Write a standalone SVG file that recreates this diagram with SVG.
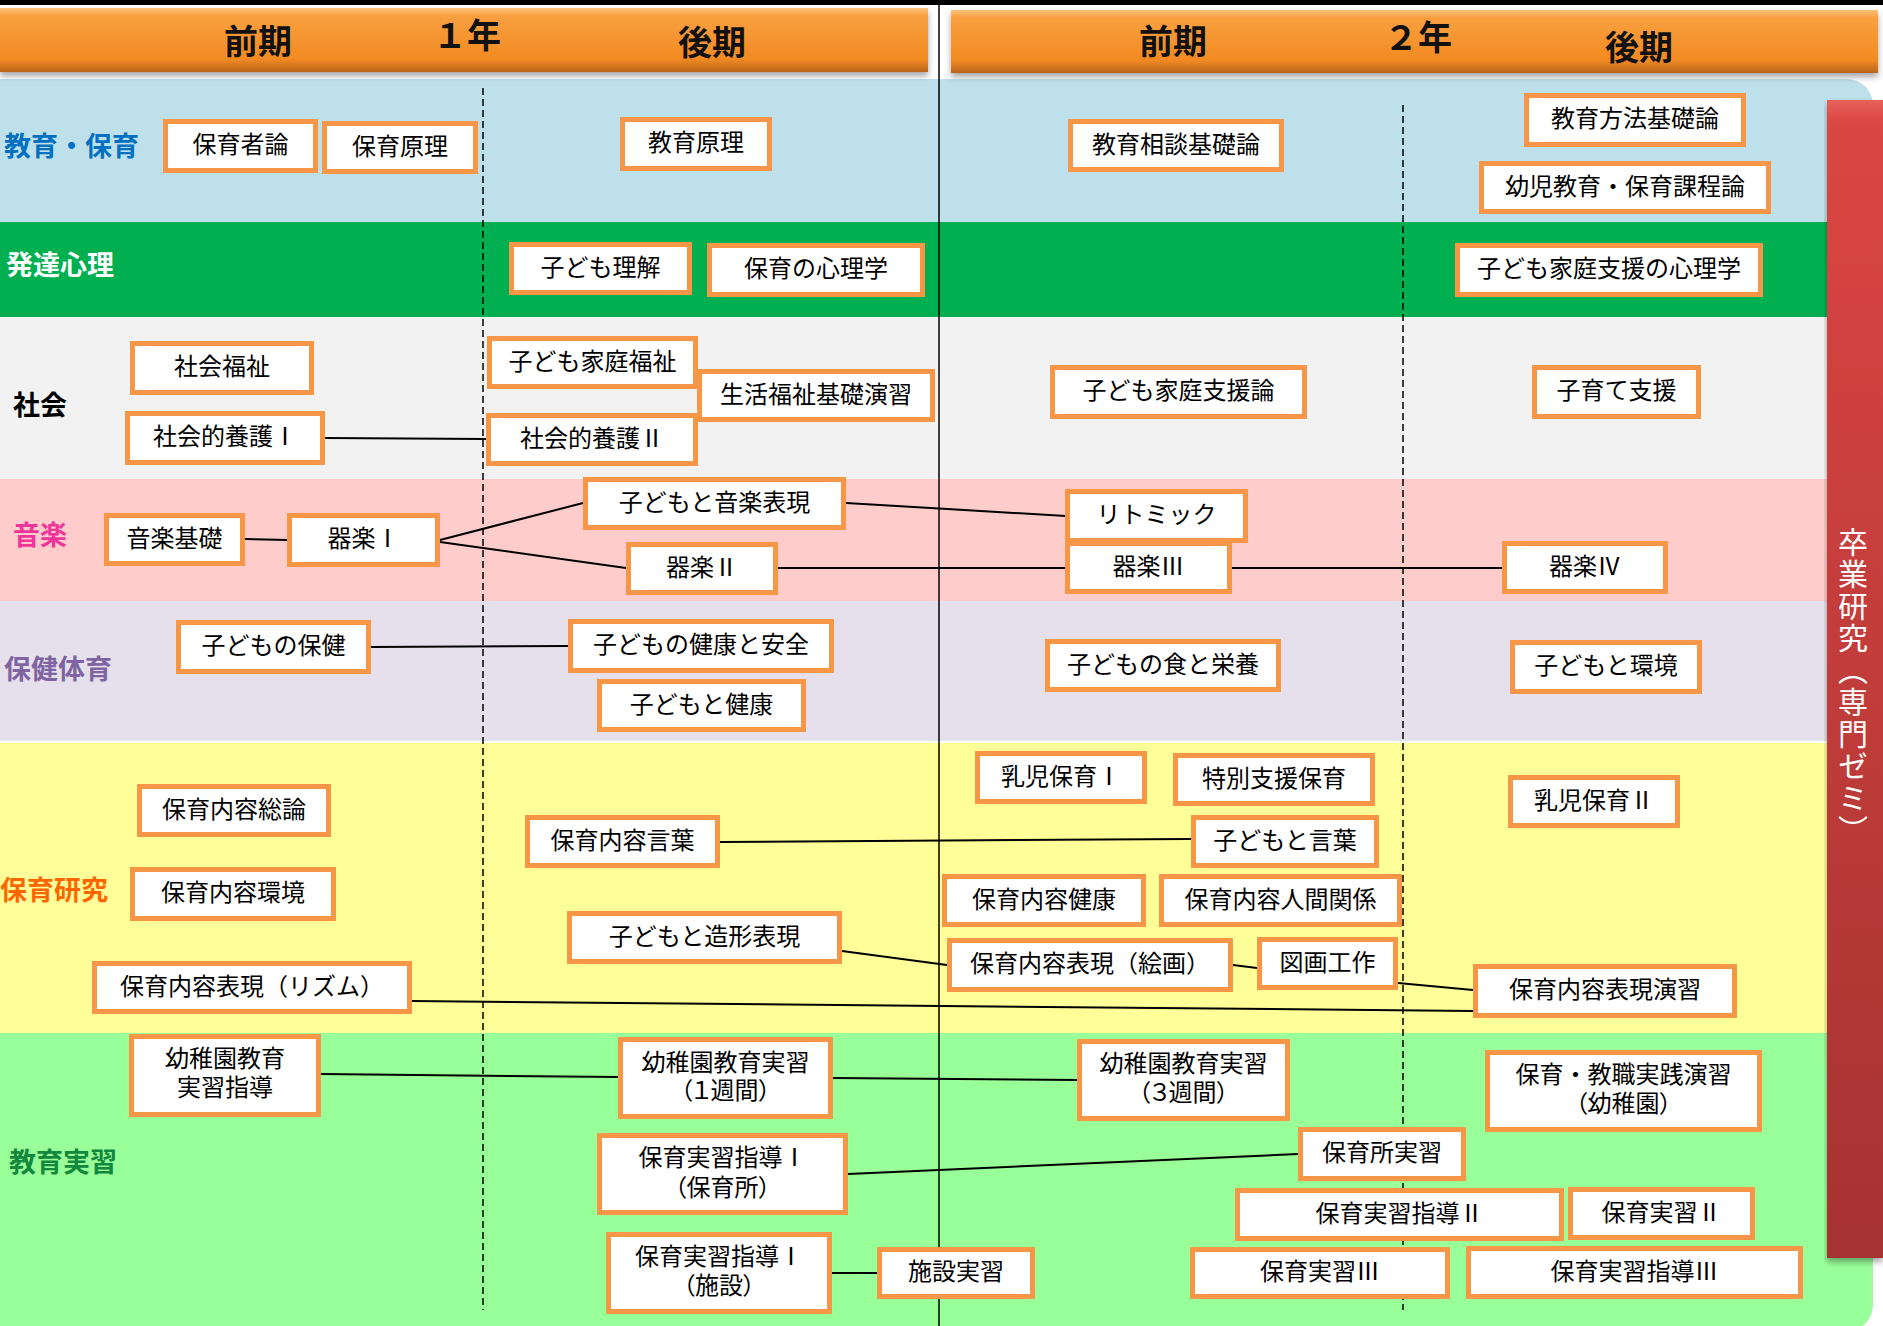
<svg xmlns="http://www.w3.org/2000/svg" width="1883" height="1326" viewBox="0 0 1883 1326">
<style>
.b{fill:#fff;stroke:#F79646;stroke-width:5}
.t{font-family:"Noto Sans CJK JP","Noto Sans",sans-serif;font-size:24px;text-anchor:middle;fill:#000}
.p{font-feature-settings:"palt"}
.h{font-family:"Noto Sans CJK JP","Noto Sans",sans-serif;font-size:34px;font-weight:bold;text-anchor:middle;fill:#111}
.l{font-family:"Noto Sans CJK JP","Noto Sans",sans-serif;font-size:27px;font-weight:bold}
.c{stroke:#000;stroke-width:2;fill:none}
.d{stroke:#000;stroke-width:1.5;stroke-dasharray:7 4}
</style>
<defs>
<linearGradient id="hg" x1="0" y1="0" x2="0" y2="1">
<stop offset="0" stop-color="#FCC27F"/><stop offset="0.12" stop-color="#F9A040"/><stop offset="0.8" stop-color="#F28A22"/><stop offset="1" stop-color="#B8631C"/>
</linearGradient>
<linearGradient id="rg" x1="0" y1="0" x2="0" y2="1">
<stop offset="0" stop-color="#E6605A"/><stop offset="0.02" stop-color="#DB4642"/><stop offset="1" stop-color="#A63232"/>
</linearGradient>
<filter id="sh" x="-5%" y="-20%" width="110%" height="150%">
<feGaussianBlur in="SourceAlpha" stdDeviation="3"/><feOffset dx="0" dy="4"/>
<feComponentTransfer><feFuncA type="linear" slope="0.35"/></feComponentTransfer>
<feMerge><feMergeNode/><feMergeNode in="SourceGraphic"/></feMerge>
</filter>
<clipPath id="bg"><rect x="-30" y="79" width="1903" height="1252" rx="26"/></clipPath>
</defs>
<rect width="1883" height="1326" fill="#fff"/>
<rect x="0" y="0" width="1883" height="5" fill="#000"/>
<g id="bands" clip-path="url(#bg)">
<rect x="-30" y="79" width="1910" height="143" fill="#BEE0EB"/>
<rect x="-30" y="222" width="1910" height="95" fill="#00B050"/>
<rect x="-30" y="317" width="1910" height="162" fill="#F2F2F2"/>
<rect x="-30" y="479" width="1910" height="122" fill="#FFCCCC"/>
<rect x="-30" y="601" width="1910" height="141" fill="#E5E0EC"/>
<rect x="-30" y="742" width="1910" height="291" fill="#FFFF99"/>
<rect x="-30" y="1033" width="1910" height="300" fill="#99FF99"/>
<line x1="0" y1="742" x2="1827" y2="742" stroke="#fff" stroke-width="2"/>
</g>
<g id="headers" filter="url(#sh)">
<rect x="0" y="8" width="928" height="64" fill="url(#hg)"/>
<rect x="951" y="10" width="927" height="63" fill="url(#hg)"/>
</g>
<g id="header-text">
<text class="h" x="258" y="54">前期</text>
<text class="h" x="467" y="48">１年</text>
<text class="h" x="712" y="55">後期</text>
<text class="h" x="1173" y="54">前期</text>
<text class="h" x="1418" y="50">２年</text>
<text class="h" x="1639" y="60">後期</text>
</g>
<g id="sotsuken">
<rect x="1827" y="100" width="56" height="1158" fill="url(#rg)" filter="url(#sh)"/>
<text x="1853" y="527" style="writing-mode:vertical-rl" font-family="Noto Sans CJK JP, sans-serif" font-size="30" letter-spacing="2" fill="#fff">卒業研究（専門ゼミ）</text>
</g>
<g id="lines">
<line class="d" x1="483" y1="88" x2="483" y2="1310"/>
<line class="d" x1="1403" y1="105" x2="1403" y2="1310"/>
<line x1="939" y1="0" x2="939" y2="1326" stroke="#000" stroke-width="1.5"/>
</g>
<g id="labels">
<text class="l" x="4" y="156" fill="#0070C0">教育・保育</text>
<text class="l" x="6" y="275" fill="#fff">発達心理</text>
<text class="l" x="13" y="415" fill="#000">社会</text>
<text class="l" x="13" y="545" fill="#F0359A">音楽</text>
<text class="l" x="4" y="679" fill="#8064A2">保健体育</text>
<text class="l" x="0" y="900" fill="#FF6600">保育研究</text>
<text class="l" x="9" y="1172" fill="#12883C">教育実習</text>
</g>
<g id="connectors">
<line class="c" x1="325" y1="438" x2="486" y2="439"/>
<line class="c" x1="245" y1="539" x2="287" y2="540"/>
<line class="c" x1="440" y1="540" x2="583" y2="503"/>
<line class="c" x1="440" y1="542" x2="626" y2="568"/>
<line class="c" x1="846" y1="503" x2="1066" y2="516"/>
<line class="c" x1="778" y1="568" x2="1065" y2="568"/>
<line class="c" x1="1232" y1="568" x2="1502" y2="568"/>
<line class="c" x1="371" y1="647" x2="568" y2="646"/>
<line class="c" x1="720" y1="842" x2="1191" y2="839"/>
<line class="c" x1="842" y1="951" x2="947" y2="965"/>
<line class="c" x1="1233" y1="965" x2="1257" y2="968"/>
<line class="c" x1="1398" y1="983" x2="1473" y2="990"/>
<line class="c" x1="412" y1="1001" x2="1473" y2="1011"/>
<line class="c" x1="321" y1="1074" x2="618" y2="1077"/>
<line class="c" x1="833" y1="1078" x2="1077" y2="1080"/>
<line class="c" x1="848" y1="1174" x2="1298" y2="1154"/>
<line class="c" x1="832" y1="1273" x2="877" y2="1273"/>
</g>
<g id="n1"><rect class="b" x="165.5" y="121.5" width="150" height="49"/><text class="t" x="240.5" y="153">保育者論</text></g>
<g id="n2"><rect class="b" x="324.5" y="123.5" width="151" height="48"/><text class="t" x="400" y="154.5">保育原理</text></g>
<g id="n3"><rect class="b" x="622.5" y="119.5" width="147" height="49"/><text class="t" x="696" y="151">教育原理</text></g>
<g id="n4"><rect class="b" x="1070.5" y="121.5" width="211" height="48"/><text class="t" x="1176" y="152.5">教育相談基礎論</text></g>
<g id="n5"><rect class="b" x="1526.5" y="95.5" width="217" height="49"/><text class="t" x="1635" y="127">教育方法基礎論</text></g>
<g id="n6"><rect class="b" x="1481.5" y="163.5" width="287" height="48"/><text class="t" x="1625" y="194.5">幼児教育・保育課程論</text></g>
<g id="n7"><rect class="b" x="511.5" y="244.5" width="178" height="48"/><text class="t" x="600.5" y="275.5">子ども理解</text></g>
<g id="n8"><rect class="b" x="709.5" y="245.5" width="213" height="49"/><text class="t" x="816" y="277">保育の心理学</text></g>
<g id="n9"><rect class="b" x="1457.5" y="245.5" width="303" height="49"/><text class="t" x="1609" y="277">子ども家庭支援の心理学</text></g>
<g id="n10"><rect class="b" x="132.5" y="343.5" width="179" height="49"/><text class="t" x="222" y="375">社会福祉</text></g>
<g id="n11"><rect class="b" x="127.5" y="413.5" width="195" height="49"/><text class="t" x="225" y="445">社会的養護Ⅰ</text></g>
<g id="n12"><rect class="b" x="489.5" y="338.5" width="206" height="48"/><text class="t" x="592.5" y="369.5">子ども家庭福祉</text></g>
<g id="n13"><rect class="b" x="699.5" y="371.5" width="233" height="48"/><text class="t" x="816" y="402.5">生活福祉基礎演習</text></g>
<g id="n14"><rect class="b" x="488.5" y="415.5" width="207" height="48"/><text class="t" x="592" y="446.5">社会的養護Ⅱ</text></g>
<g id="n15"><rect class="b" x="1052.5" y="367.5" width="252" height="49"/><text class="t" x="1178.5" y="399">子ども家庭支援論</text></g>
<g id="n16"><rect class="b" x="1534.5" y="367.5" width="164" height="49"/><text class="t" x="1616.5" y="399">子育て支援</text></g>
<g id="n17"><rect class="b" x="106.5" y="515.5" width="136" height="48"/><text class="t" x="174.5" y="546.5">音楽基礎</text></g>
<g id="n18"><rect class="b" x="289.5" y="515.5" width="148" height="49"/><text class="t" x="363.5" y="547">器楽Ⅰ</text></g>
<g id="n19"><rect class="b" x="585.5" y="479.5" width="258" height="48"/><text class="t" x="714.5" y="510.5">子どもと音楽表現</text></g>
<g id="n20"><rect class="b" x="628.5" y="544.5" width="147" height="48"/><text class="t" x="702" y="575.5">器楽Ⅱ</text></g>
<g id="n21"><rect class="b" x="1067.5" y="491.5" width="178" height="49"/><text class="t" x="1156.5" y="523">リトミック</text></g>
<g id="n22"><rect class="b" x="1067.5" y="543.5" width="162" height="48"/><text class="t" x="1148.5" y="574.5">器楽Ⅲ</text></g>
<g id="n23"><rect class="b" x="1504.5" y="543.5" width="161" height="48"/><text class="t" x="1585" y="574.5">器楽Ⅳ</text></g>
<g id="n24"><rect class="b" x="178.5" y="622.5" width="190" height="49"/><text class="t" x="273.5" y="654">子どもの保健</text></g>
<g id="n25"><rect class="b" x="570.5" y="621.5" width="261" height="49"/><text class="t" x="701" y="653">子どもの健康と安全</text></g>
<g id="n26"><rect class="b" x="599.5" y="681.5" width="204" height="48"/><text class="t" x="701.5" y="712.5">子どもと健康</text></g>
<g id="n27"><rect class="b" x="1047.5" y="641.5" width="231" height="48"/><text class="t" x="1163" y="672.5">子どもの食と栄養</text></g>
<g id="n28"><rect class="b" x="1512.5" y="642.5" width="187" height="49"/><text class="t" x="1606" y="674">子どもと環境</text></g>
<g id="n29"><rect class="b" x="139.5" y="786.5" width="189" height="48"/><text class="t" x="234" y="817.5">保育内容総論</text></g>
<g id="n30"><rect class="b" x="132.5" y="869.5" width="201" height="49"/><text class="t" x="233" y="901">保育内容環境</text></g>
<g id="n31"><rect class="b" x="527.5" y="817.5" width="190" height="48"/><text class="t" x="622.5" y="848.5">保育内容言葉</text></g>
<g id="n32"><rect class="b" x="569.5" y="913.5" width="270" height="48"/><text class="t" x="704.5" y="944.5">子どもと造形表現</text></g>
<g id="n33"><rect class="b" x="94.5" y="963.5" width="315" height="48"/><text class="t" x="252" y="994.5">保育内容表現（リズム）</text></g>
<g id="n34"><rect class="b" x="977.5" y="753.5" width="167" height="48"/><text class="t" x="1061" y="784.5">乳児保育Ⅰ</text></g>
<g id="n35"><rect class="b" x="1175.5" y="755.5" width="197" height="48"/><text class="t" x="1274" y="786.5">特別支援保育</text></g>
<g id="n36"><rect class="b" x="1510.5" y="777.5" width="167" height="48"/><text class="t" x="1594" y="808.5">乳児保育Ⅱ</text></g>
<g id="n37"><rect class="b" x="1193.5" y="817.5" width="183" height="48"/><text class="t" x="1285" y="848.5">子どもと言葉</text></g>
<g id="n38"><rect class="b" x="944.5" y="876.5" width="199" height="48"/><text class="t" x="1044" y="907.5">保育内容健康</text></g>
<g id="n39"><rect class="b" x="1161.5" y="876.5" width="238" height="48"/><text class="t" x="1280.5" y="907.5">保育内容人間関係</text></g>
<g id="n40"><rect class="b" x="949.5" y="940.5" width="281" height="49"/><text class="t" x="1090" y="972">保育内容表現（絵画）</text></g>
<g id="n41"><rect class="b" x="1259.5" y="939.5" width="136" height="48"/><text class="t" x="1327.5" y="970.5">図画工作</text></g>
<g id="n42"><rect class="b" x="1475.5" y="966.5" width="259" height="49"/><text class="t" x="1605" y="998">保育内容表現演習</text></g>
<g id="n43"><rect class="b" x="131.5" y="1036.5" width="187" height="78"/><text class="t" x="225" y="1067">幼稚園教育<tspan x="225" y="1096">実習指導</tspan></text></g>
<g id="n44"><rect class="b" x="620.5" y="1039.5" width="210" height="77"/><text class="t" x="725.5" y="1071">幼稚園教育実習<tspan class="p" x="725.5" y="1099">（１週間）</tspan></text></g>
<g id="n45"><rect class="b" x="599.5" y="1135.5" width="246" height="77"/><text class="t" x="722.5" y="1166">保育実習指導Ⅰ<tspan class="p" x="722.5" y="1196">（保育所）</tspan></text></g>
<g id="n46"><rect class="b" x="608.5" y="1234.5" width="221" height="77"/><text class="t" x="719" y="1265">保育実習指導Ⅰ<tspan class="p" x="719" y="1294">（施設）</tspan></text></g>
<g id="n47"><rect class="b" x="879.5" y="1249.5" width="153" height="47"/><text class="t" x="956" y="1280">施設実習</text></g>
<g id="n48"><rect class="b" x="1079.5" y="1041.5" width="208" height="77"/><text class="t" x="1183.5" y="1072">幼稚園教育実習<tspan class="p" x="1183.5" y="1101">（３週間）</tspan></text></g>
<g id="n49"><rect class="b" x="1487.5" y="1052.5" width="272" height="77"/><text class="t" x="1623.5" y="1083">保育・教職実践演習<tspan class="p" x="1623.5" y="1112">（幼稚園）</tspan></text></g>
<g id="n50"><rect class="b" x="1300.5" y="1129.5" width="163" height="49"/><text class="t" x="1382" y="1161">保育所実習</text></g>
<g id="n51"><rect class="b" x="1237.5" y="1190.5" width="324" height="48"/><text class="t" x="1399.5" y="1221.5">保育実習指導Ⅱ</text></g>
<g id="n52"><rect class="b" x="1570.5" y="1189.5" width="182" height="48"/><text class="t" x="1661.5" y="1220.5">保育実習Ⅱ</text></g>
<g id="n53"><rect class="b" x="1192.5" y="1249.5" width="255" height="47"/><text class="t" x="1320" y="1280">保育実習Ⅲ</text></g>
<g id="n54"><rect class="b" x="1468.5" y="1248.5" width="332" height="48"/><text class="t" x="1634.5" y="1279.5">保育実習指導Ⅲ</text></g>
</svg>
